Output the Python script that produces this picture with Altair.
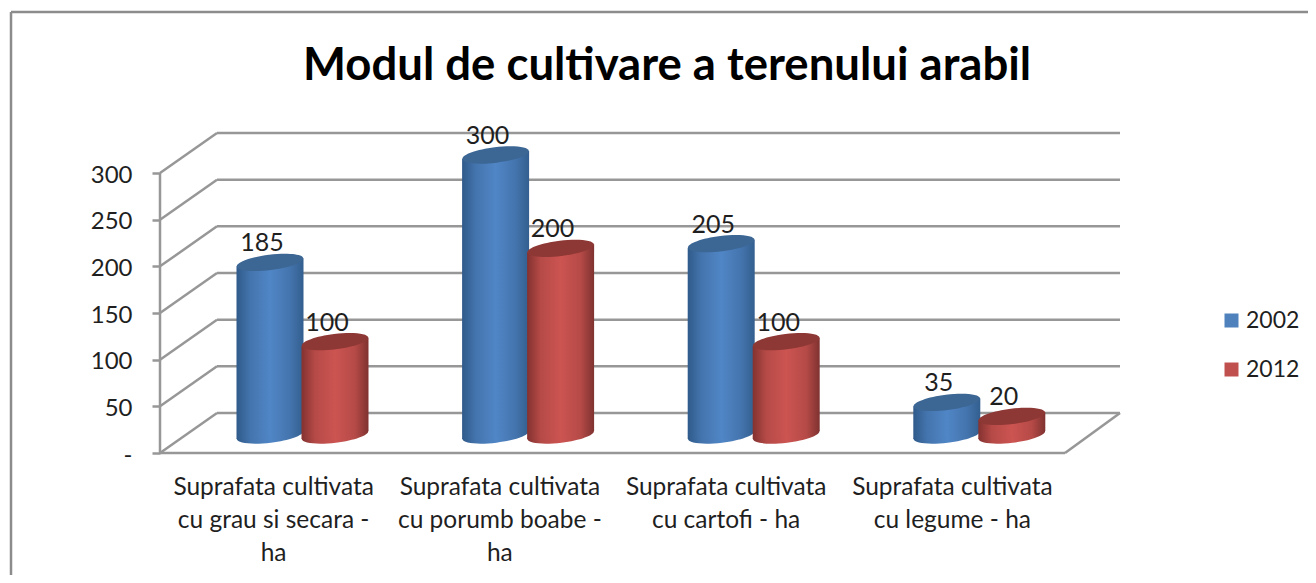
import altair as alt
import pandas as pd

# ---- values
categories = [
    ["Suprafata cultivata", "cu grau si secara -", "ha"],
    ["Suprafata cultivata", "cu porumb boabe -", "ha"],
    ["Suprafata cultivata", "cu cartofi - ha"],
    ["Suprafata cultivata", "cu legume - ha"],
]
years = ["2002", "2012"]
values_2002 = [185, 300, 205, 35]
values_2012 = [100, 200, 100, 20]
y_ticks = [0, 50, 100, 150, 200, 250, 300]
title_text = "Modul de cultivare a terenului arabil"

# ---- styling
FONT = "Lato"
GRID = "#979797"
TEXT = "#1f1f1f"
BLUE = "#4f81bd"
RED = "#c0504d"
CAP = {"2002": "#3c6694", "2012": "#8e3835"}
STOPS = {
    "2002": ["#2f5a8a", "#4474ad", "#5086c6", "#4474ad", "#335f8f"],
    "2012": ["#833230", "#b54a47", "#cc5451", "#b54a47", "#7f3230"],
}

# ---- plot-area scale set-up
W, H = 1297, 563
UX = 226.25            # px per category
UY = 280 / 300         # px per value unit
X_DOMAIN = [-149 / UX, (W - 149) / UX]
Y_DOMAIN = [-(H - 441) / UY, 441 / UY]
DEPTH_X = 57 / UX
DEPTH_Y = 40 / UY
BAR_LIFT = 18 / UY     # cylinders stand in the middle of the floor
TILT = 4 / UY
BAR_W = 67
STEP = 225.6 / UX
GROUP_X = {"2002": 110 / UX, "2012": 175 / UX}

x_scale = alt.Scale(domain=X_DOMAIN, nice=False, zero=False)
y_scale = alt.Scale(domain=Y_DOMAIN, nice=False, zero=False)

rows = []
for year, vals in zip(years, [values_2002, values_2012]):
    for i, v in enumerate(vals):
        rows.append({"cat": i, "year": year, "value": v,
                     "cx": GROUP_X[year] + i * STEP,
                     "top": v + BAR_LIFT, "base": BAR_LIFT})
bars = pd.DataFrame(rows)

body_rows = []
for r in rows:
    for side in (-1, 1):
        body_rows.append({"id": f'{r["year"]}-{r["cat"]}', "year": r["year"],
                          "x": r["cx"] + side * (BAR_W / 2) / UX,
                          "yt": r["top"] + side * TILT,
                          "yb": r["base"] + side * TILT})
bodies = pd.DataFrame(body_rows)

grid = pd.DataFrame({"v": y_ticks})
grid["x0"] = 0.0
grid["xb"] = DEPTH_X
grid["xe"] = (1120 - 160) / UX
grid["vb"] = grid["v"] + DEPTH_Y

# real axes, shared by every layer
label_lists = "[" + ",".join(
    "[" + ",".join("'" + s + "'" for s in c) + "]" for c in categories) + "]"
x_axis = alt.Axis(
    values=[0.5 + i for i in range(4)], title=None, domain=False, ticks=False, grid=False,
    offset=-(H - 441), labelExpr=f"{label_lists}[round(datum.value - 0.5)]",
    labelFont=FONT, labelFontSize=24.5, labelColor=TEXT, labelPadding=22, labelLimit=400,
    labelLineHeight=33, labelBaseline="top", labelOverlap=False, labelFlush=False, labelAngle=0)
y_axis = alt.Axis(
    values=y_ticks, title=None, domain=False, grid=False, offset=-149,
    tickSize=8, tickColor=GRID, tickWidth=2.5, labelPadding=20, labelOffset=2,
    labelExpr="datum.value == 0 ? '-' : datum.label",
    labelFont=FONT, labelFontSize=24, labelColor=TEXT, labelOverlap=False, labelFlush=False)

X = lambda f, **k: alt.X(f, scale=x_scale, axis=x_axis, **k)
Y = lambda f, **k: alt.Y(f, scale=y_scale, axis=y_axis, **k)

back = alt.Chart(grid).mark_rule(color=GRID, strokeWidth=2.5).encode(
    x=X("xb:Q"), x2="xe:Q", y=Y("vb:Q"))
diag = alt.Chart(grid).mark_rule(color=GRID, strokeWidth=2.5).encode(
    x=X("x0:Q"), x2="xb:Q", y=Y("v:Q"), y2="vb:Q")
front_v = alt.Chart(pd.DataFrame({"x": [0.0], "a": [0], "b": [max(y_ticks)]})).mark_rule(
    color=GRID, strokeWidth=2.5).encode(x=X("x:Q"), y=Y("a:Q"), y2="b:Q")
floor_f = alt.Chart(pd.DataFrame({"a": [0.0], "b": [4.0], "y": [0]})).mark_rule(
    color=GRID, strokeWidth=2.5).encode(x=X("a:Q"), x2="b:Q", y=Y("y:Q"))
floor_r = alt.Chart(pd.DataFrame({"a": [4.0], "b": [(1120 - 160) / UX], "y": [0], "y2": [DEPTH_Y]})).mark_rule(
    color=GRID, strokeWidth=2.5).encode(x=X("a:Q"), x2="b:Q", y=Y("y:Q"), y2="y2:Q")

# chart frame: only its top and left edges are in the picture
frame_top = alt.Chart(pd.DataFrame({"a": [X_DOMAIN[0]], "b": [X_DOMAIN[1]], "y": [Y_DOMAIN[1]]})).mark_rule(
    color="#8c8c8c", strokeWidth=2.5, clip=False).encode(x=X("a:Q"), x2="b:Q", y=Y("y:Q"))
frame_left = alt.Chart(pd.DataFrame({"x": [X_DOMAIN[0]], "a": [Y_DOMAIN[0]], "b": [Y_DOMAIN[1]]})).mark_rule(
    color="#8c8c8c", strokeWidth=2.5, clip=False).encode(x=X("x:Q"), y=Y("a:Q"), y2="b:Q")

ELLIPSE = "M-1,0A1,0.23,0,1,1,1,0A1,0.23,0,1,1,-1,0Z"


def gradient(year):
    s = STOPS[year]
    return alt.Gradient(gradient="linear", x1=0, x2=1, y1=0, y2=0, stops=[
        alt.GradientStop(offset=o, color=c) for o, c in zip([0, 0.2, 0.5, 0.8, 1], s)])


def cylinder(year):
    b = bars[bars.year == year]
    d = bodies[bodies.year == year]
    base = alt.Chart(b).mark_point(filled=True, shape=ELLIPSE, size=BAR_W ** 2, angle=353, opacity=1,
                                   fill=gradient(year), strokeWidth=0).encode(x=X("cx:Q"), y=Y("base:Q"))
    body = alt.Chart(d).mark_area(fill=gradient(year), line=False, interpolate="linear").encode(
        x=X("x:Q"), y=Y("yt:Q"), y2="yb:Q", detail="id:N")
    cap = alt.Chart(b).mark_point(filled=True, shape=ELLIPSE, size=BAR_W ** 2, angle=353, opacity=1,
                                  fill=CAP[year], strokeWidth=0).encode(x=X("cx:Q"), y=Y("top:Q"))
    lab = alt.Chart(b).mark_text(font=FONT, fontSize=25, color=TEXT, dx=-8, dy=-19, baseline="middle").encode(
        x=X("cx:Q"), y=Y("top:Q"), text="value:Q")
    return [base, body, cap], lab


blue_parts, blue_lab = cylinder("2002")
red_parts, red_lab = cylinder("2012")

legend_layer = alt.Chart(bars).mark_point(filled=True, shape="square", opacity=0).encode(
    x=X("cx:Q"), y=Y("top:Q"),
    color=alt.Color("year:N", scale=alt.Scale(domain=years, range=[BLUE, RED]), legend=alt.Legend(
        title=None, orient="none", legendX=1209, legendY=297, symbolType="square", symbolSize=196,
        symbolOpacity=1, symbolStrokeWidth=0, labelFont=FONT, labelFontSize=23, labelColor=TEXT,
        rowPadding=25, labelOffset=3)),
)

chart = alt.layer(
    frame_top, frame_left, back, diag, front_v, floor_f, floor_r,
    *blue_parts, *red_parts, blue_lab, red_lab, legend_layer,
).properties(
    width=W, height=H,
    padding={"left": 3, "top": 4, "right": 0, "bottom": 0},
    autosize=alt.AutoSizeParams(type="none"),
    background="white",
    title=alt.TitleParams(title_text, font=FONT, fontSize=45.5, fontWeight="bold", color="#000000",
                          anchor="start", frame="group", offset=-79, dx=292),
).configure_view(stroke=None)

chart.save("out.html", embed_options={"renderer": "svg", "actions": False})
